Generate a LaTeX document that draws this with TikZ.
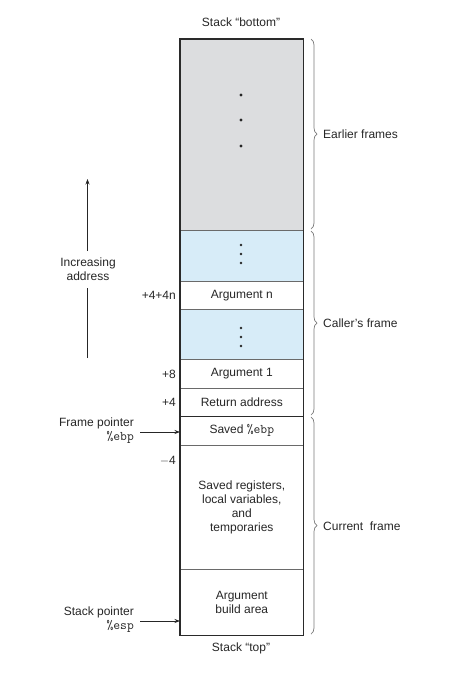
\documentclass[tikz,border=0pt]{standalone}
\usepackage{fontspec}
\setmainfont{Liberation Sans}
\setmonofont[Scale=1.1]{Latin Modern Mono}
\usetikzlibrary{decorations.pathreplacing,arrows.meta}
\definecolor{txt}{HTML}{262626}
\definecolor{frameline}{HTML}{2A2A2A}
\definecolor{sepline}{HTML}{6A6A6A}
\definecolor{grayfill}{HTML}{DCDDDF}
\definecolor{bluefill}{HTML}{D7ECF8}
\definecolor{bracecol}{HTML}{7A7A7A}
\begin{document}
\begin{tikzpicture}[x=1pt,y=-1pt,
  every node/.style={font=\fontsize{12}{14}\selectfont, text=txt},
  cell/.style={draw=sepline, line width=0.6pt, minimum width=123pt, inner sep=0pt, align=center, anchor=north west},
  lbl/.style={anchor=east, inner sep=0pt},
  ptr/.style={align=right, anchor=east, inner sep=0pt},
  parrow/.style={draw=txt, line width=0.6pt, -{Stealth[length=5.5pt,width=4pt]}},
  brc/.style={draw=bracecol, line width=0.7pt, decorate, decoration={brace, amplitude=6pt}},
  blbl/.style={anchor=west, inner sep=0pt},
  dotbig/.style={fill=txt, draw=none, circle, inner sep=0pt, minimum size=3.4pt},
  dotsmall/.style={fill=txt, draw=none, circle, inner sep=0pt, minimum size=2.8pt}
]
\useasboundingbox (0,0) rectangle (460,678);

% cells
\node[cell, fill=grayfill, minimum height=191pt] (earlier) at (180,39) {};
\node[cell, fill=bluefill, minimum height=51pt] (blue1) at (180,230) {};
\node[cell, minimum height=28pt] (argn) at (180,281) {Argument n};
\node[cell, fill=bluefill, minimum height=50pt] (blue2) at (180,309) {};
\node[cell, minimum height=29pt] (arg1) at (180,359) {Argument 1};
\node[cell, minimum height=28pt] (ret) at (180,388) {Return address};
\node[cell, minimum height=29pt] (ebp) at (180,416) {Saved \texttt{\%ebp}};
\node[cell, minimum height=124pt] (regs) at (180,445) {Saved registers,\\local variables,\\and\\temporaries};
\node[cell, minimum height=66pt] (build) at (180,569) {Argument\\build area};

% outer frame
\draw[frameline, line width=1.1pt] (earlier.north west) rectangle (build.south east);
\draw[frameline, line width=1.1pt] (ret.south west) -- (ret.south east);

% dots
\node[dotbig] (d1) at (241,95) {};
\node[dotbig] (d2) at (241,120) {};
\node[dotbig] (d3) at (241,146) {};
\node[dotsmall] (b1) at (241,245) {};
\node[dotsmall] (b2) at (241,254) {};
\node[dotsmall] (b3) at (241,263) {};
\node[dotsmall] (c1) at (241,328) {};
\node[dotsmall] (c2) at (241,337) {};
\node[dotsmall] (c3) at (241,346) {};

% top / bottom labels
\node (sbottom) at (241,22) {Stack “bottom”};
\node (stop) at (241,648) {Stack “top”};

% offsets
\node[lbl] (o4n) at (176,295) {+4+4n};
\node[lbl] (o8) at (176,374) {+8};
\node[lbl] (o4) at (176,402) {+4};
\node[lbl] (om4) at (176,461) {$-$4};

% pointers
\node[ptr] (fp) at (134,431) {Frame pointer\\\texttt{\%ebp}};
\coordinate (fpstart) at (140,432);
\draw[parrow] (fpstart) -- (ebp.west |- fpstart);
\node[ptr] (sp) at (134,620) {Stack pointer\\\texttt{\%esp}};
\coordinate (spstart) at (140,621);
\draw[parrow] (spstart) -- (build.west |- spstart);

% increasing address
\node[align=center, inner sep=0pt] (inc) at (88,269) {Increasing\\address};
\coordinate (incbot) at (87.5,358);
\coordinate (inctop) at (87.5,179);
\draw[draw=txt, line width=0.7pt] (incbot) -- (87.5,288);
\draw[parrow, line width=0.7pt] (87.5,251) -- (inctop);

% braces
\coordinate (e1) at (311,39);
\coordinate (e2) at (311,229);
\coordinate (c1t) at (311,231);
\coordinate (c1b) at (311,415);
\coordinate (r1t) at (311,417);
\coordinate (r1b) at (311,634);
\draw[brc] (e1) -- (e2);
\draw[brc] (c1t) -- (c1b);
\draw[brc] (r1t) -- (r1b);
\node[blbl] (lea) at (323,134) {Earlier frames};
\node[blbl] (lca) at (323,323) {Caller's frame};
\node[blbl] (lcu) at (323,526) {Current\ \ frame};
\end{tikzpicture}
\end{document}
